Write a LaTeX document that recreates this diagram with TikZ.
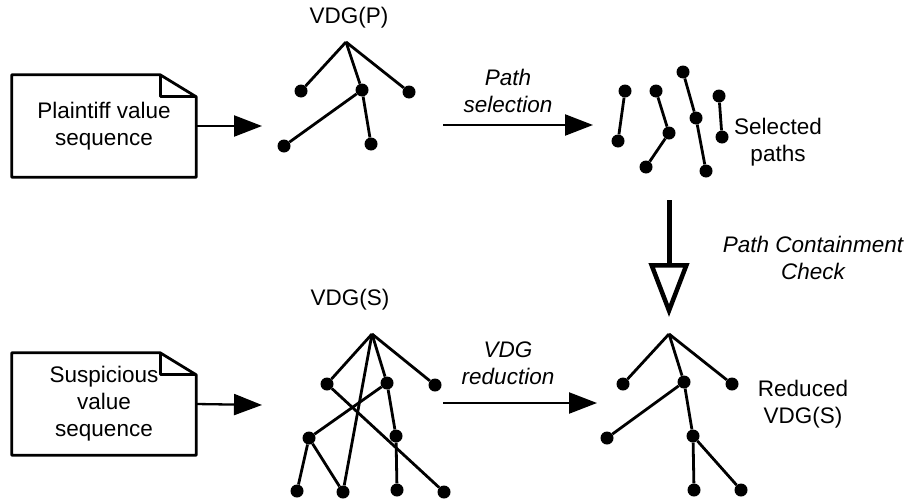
\documentclass[tikz,border=0pt]{standalone}
\usepackage{fontspec}
\setmainfont{Liberation Sans}
\usetikzlibrary{arrows.meta}

\tikzset{
  every node/.style={font=\fontsize{22.5}{27}\selectfont, align=center},
  vtx/.style={circle, fill, inner sep=0pt, minimum size=13pt},
  tree/.style={line width=2.8pt},
  flow/.style={line width=2.3pt, -{Triangle[length=28pt,width=21pt]}},
  doc/.style={minimum width=184pt, minimum height=102pt, inner sep=0pt},
  docline/.style={line width=2.8pt, line join=round},
  lbl/.style={font=\fontsize{22.5}{27}\selectfont\itshape}
}
% page outline with a folded corner round a doc node
\newcommand\docframe[1]{%
  \draw[docline] ([xshift=-36pt]#1.north east) -- (#1.north west) -- (#1.south west)
    -- (#1.south east) -- ([yshift=-22pt]#1.north east) -- cycle;
  \draw[docline] ([xshift=-36pt]#1.north east) |- ([yshift=-22pt]#1.north east);}

\begin{document}
\begin{tikzpicture}[x=1pt,y=-1pt]
  \useasboundingbox (0,0) rectangle (909,498);

  % inputs
  \node[doc] (plain) at (104,126) {Plaintiff value\\sequence};
  \docframe{plain}
  \node[doc] (susp) at (104,404) {Suspicious\\value\\sequence};
  \docframe{susp}

  % VDG(P)
  \node (vdgp) at (349,18) {VDG(P)};
  \coordinate (p0) at (346,42);
  \node[vtx] (p1) at (301,91) {};
  \node[vtx] (p2) at (362,90) {};
  \node[vtx] (p3) at (409,92) {};
  \node[vtx] (p4) at (284,146) {};
  \node[vtx] (p5) at (371,144) {};
  \path[tree] (p0) edge (p1) edge (p2) edge (p3)
    (p2) edge (p4) edge (p5);

  % selected paths
  \node[vtx] (s1a) at (625,91) {};
  \node[vtx] (s1b) at (618,141) {};
  \node[vtx] (s2a) at (656,91) {};
  \node[vtx] (s2b) at (669,133) {};
  \node[vtx] (s2c) at (646,167) {};
  \node[vtx] (s3a) at (683,72) {};
  \node[vtx] (s3b) at (696,118) {};
  \node[vtx] (s3c) at (706,171) {};
  \node[vtx] (s4a) at (719,96) {};
  \node[vtx] (s4b) at (722,137) {};
  \path[tree] (s1a) edge (s1b)
    (s2a) edge (s2b) (s2b) edge (s2c)
    (s3a) edge (s3b) (s3b) edge (s3c)
    (s4a) edge (s4b);
  \node (selp) at (778,142) {Selected\\paths};

  % VDG(S)
  \node (vdgs) at (350,300) {VDG(S)};
  \coordinate (q0) at (372,334);
  \node[vtx] (q1) at (327,384) {};
  \node[vtx] (q2) at (387,383) {};
  \node[vtx] (q3) at (435,385) {};
  \node[vtx] (q4) at (309,438) {};
  \node[vtx] (q5) at (396,436) {};
  \node[vtx] (q6) at (297,491) {};
  \node[vtx] (q7) at (343,492) {};
  \node[vtx] (q8) at (397,490) {};
  \node[vtx] (q9) at (444,492) {};
  \path[tree] (q0) edge (q1) edge (q2) edge (q3) edge (q7)
    (q1) edge (q9)
    (q2) edge (q4) edge (q5)
    (q4) edge (q6) edge (q7)
    (q5) edge (q8);

  % reduced VDG(S)
  \coordinate (r0) at (669,334);
  \node[vtx] (r1) at (623,384) {};
  \node[vtx] (r2) at (684,382) {};
  \node[vtx] (r3) at (732,384) {};
  \node[vtx] (r4) at (607,438) {};
  \node[vtx] (r5) at (693,436) {};
  \node[vtx] (r6) at (694,490) {};
  \node[vtx] (r7) at (741,490) {};
  \path[tree] (r0) edge (r1) edge (r2) edge (r3)
    (r2) edge (r4) edge (r5)
    (r5) edge (r6) edge (r7);
  \node (redv) at (803,404) {Reduced\\VDG(S)};

  % steps
  \coordinate (pin) at (262,126);
  \coordinate (sin) at (262,405);
  \coordinate (selfrom) at (443,125);
  \coordinate (selto) at (593,125);
  \coordinate (redfrom) at (443,403);
  \coordinate (redto) at (597,403);
  \coordinate (chkfrom) at (669,200);
  \coordinate (chkto) at (669,317);
  \draw[flow] (plain.east) -- (pin);
  \draw[flow] (susp.east) -- (sin);
  \draw[flow] (selfrom) -- (selto);
  \draw[flow] (redfrom) -- (redto);
  \draw[line width=5pt, -{Triangle[open,length=54pt,width=40pt,line width=4.5pt]}]
    (chkfrom) -- (chkto);
  \node[lbl] (sellbl) at (508,91) {Path\\selection};
  \node[lbl] (redlbl) at (508,363) {VDG\\reduction};
  \node[lbl] (chklbl) at (813,258) {Path Containment\\Check};
\end{tikzpicture}
\end{document}
